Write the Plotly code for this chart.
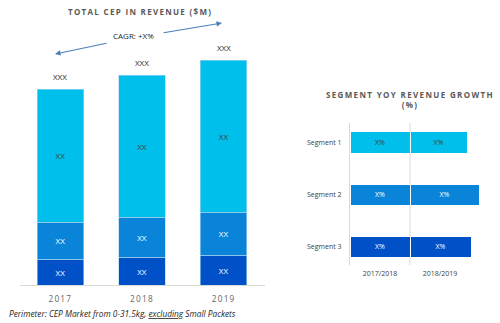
import plotly.graph_objects as go

# ---------------- data ----------------
years = ["2017", "2018", "2019"]
seg_dark = [26, 28, 30]      # Segment 3 (bottom)
seg_mid = [37, 40, 43]       # Segment 2
seg_light = [133, 142, 152]  # Segment 1 (top)
seg_text = ["XX", "XX", "XX"]
total_text = ["XXX", "XXX", "XXX"]
cagr_label = "CAGR: +X%"

segments = ["Segment 1", "Segment 2", "Segment 3"]
periods = ["2017/2018", "2018/2019"]
growth_1718 = [60, 60, 60]
growth_1819 = [57, 69, 61]
growth_text = ["X%", "X%", "X%"]

footnote = "<i>Perimeter: CEP Market from 0-31.5kg, <u>excluding</u> Small Packets</i>"

C_LIGHT = "#00BFEA"
C_MID = "#0A84D8"
C_DARK = "#0050C8"
GRAY = "#595959"
FONT = "Open Sans"

W, H = 500, 323
def px(x): return x / W
def py(y): return 1 - y / H
def spaced(t, ls):
    return '<span style="letter-spacing:%spx">%s</span>' % (ls, t)

fig = go.Figure()

# ---------------- left stacked column chart ----------------
for vals, col, tcol in [(seg_dark, C_DARK, "white"),
                        (seg_mid, C_MID, "white"),
                        (seg_light, C_LIGHT, "#404040")]:
    fig.add_trace(go.Bar(
        x=years, y=vals, orientation="v",
        marker=dict(color=col, line=dict(color="#A9D8F2", width=0.6)),
        width=0.57, text=seg_text, textposition="inside", insidetextanchor="middle",
        textfont=dict(color=tcol, size=8, family=FONT), xaxis="x", yaxis="y",
        showlegend=False, hoverinfo="skip"))

totals = [a + b + c for a, b, c in zip(seg_dark, seg_mid, seg_light)]
annotations = []
for i, (tot, t) in enumerate(zip(totals, total_text)):
    annotations.append(dict(x=i, y=tot, xref="x", yref="y", text=t, showarrow=False,
                            xanchor="center", yanchor="bottom", yshift=5,
                            font=dict(size=8, color="#262626", family=FONT)))

# ---------------- right horizontal chart ----------------
seg_pos = list(range(len(segments)))
colors_r = [C_LIGHT, C_MID, C_DARK]
tcolors_r = ["#404040", "white", "white"]
for vals in (growth_1718, growth_1819):
    fig.add_trace(go.Bar(
        y=seg_pos, x=vals, orientation="h", width=0.41,
        marker=dict(color=colors_r, line=dict(color="white", width=1)),
        text=growth_text, textposition="inside", insidetextanchor="middle",
        textfont=dict(color=tcolors_r, size=7, family=FONT),
        xaxis="x2", yaxis="y2", showlegend=False, hoverinfo="skip"))

# titles
annotations.append(dict(x=px(139.5), y=py(12), xref="paper", yref="paper",
                        xanchor="center", yanchor="middle",
                        text="<b>" + spaced("TOTAL CEP IN REVENUE ($M)", 1.3) + "</b>",
                        showarrow=False, font=dict(size=8, color=GRAY, family=FONT)))
annotations.append(dict(x=px(410), y=py(99.5), xref="paper", yref="paper",
                        xanchor="center", yanchor="middle",
                        text="<b>" + spaced("SEGMENT YOY REVENUE GROWTH", 1.35) + "</b><br><b>"
                             + spaced("(%)", 1.35) + "</b>",
                        showarrow=False, font=dict(size=8, color=GRAY, family=FONT)))
# CAGR
annotations.append(dict(x=px(133), y=py(36), xref="paper", yref="paper", text=cagr_label,
                        xanchor="center", yanchor="middle", showarrow=False,
                        font=dict(size=8, color="#262626", family=FONT)))
ARROW = "#4A7EBB"
annotations.append(dict(x=px(222), y=py(23), xref="paper", yref="paper", text="",
                        axref="pixel", ayref="pixel",
                        showarrow=True, ax=-60, ay=10, arrowhead=2, arrowsize=1,
                        arrowwidth=1.1, arrowcolor=ARROW))
annotations.append(dict(x=px(55), y=py(54), xref="paper", yref="paper", text="",
                        axref="pixel", ayref="pixel",
                        showarrow=True, ax=53, ay=-11, arrowhead=2, arrowsize=1,
                        arrowwidth=1.1, arrowcolor=ARROW))
# footnote
annotations.append(dict(x=px(7), y=py(313), xref="paper", yref="paper", text=footnote,
                        xanchor="left", yanchor="middle", showarrow=False,
                        font=dict(size=8.3, color="#262626", family=FONT)))

shapes = [dict(type="line", xref="x2", yref="y2 domain", x0=60, x1=60, y0=0, y1=1,
               line=dict(color="#D9D9D9", width=1), layer="below")]

fig.update_layout(
    width=W, height=H, margin=dict(l=0, r=0, t=0, b=0),
    paper_bgcolor="white", plot_bgcolor="white", barmode="stack",
    font=dict(family=FONT, color=GRAY),
    xaxis=dict(domain=[px(19.5), px(264.5)], type="category", range=[-0.5, 2.5],
               anchor="y", showline=True,
               tickmode="array", tickvals=years, ticktext=[spaced(y, 1.2) for y in years],
               linecolor="#D9D9D9", ticks="outside", ticklen=6, tickcolor="white",
               tickfont=dict(size=8.3, color="#666666", family=FONT), showgrid=False),
    yaxis=dict(domain=[py(285), py(35)], range=[0, 250], anchor="x", visible=False),
    xaxis2=dict(domain=[px(350), px(490)], range=[0, 140], anchor="y2",
                tickmode="array", tickvals=[30, 90], ticktext=periods,
                showgrid=False, zeroline=False, showline=False,
                ticks="outside", ticklen=2, tickcolor="white",
                tickfont=dict(size=7, color="#404040")),
    yaxis2=dict(domain=[py(265), py(123)], range=[2.346, -0.375], anchor="x2",
                tickmode="array", tickvals=seg_pos, ticktext=segments,
                showgrid=False, zeroline=False, showline=True, linecolor="#D9D9D9",
                ticks="outside", ticklen=6, tickcolor="white",
                tickfont=dict(size=7, color="#404040")),
    annotations=annotations, shapes=shapes,
)

fig.write_html("out.html")
